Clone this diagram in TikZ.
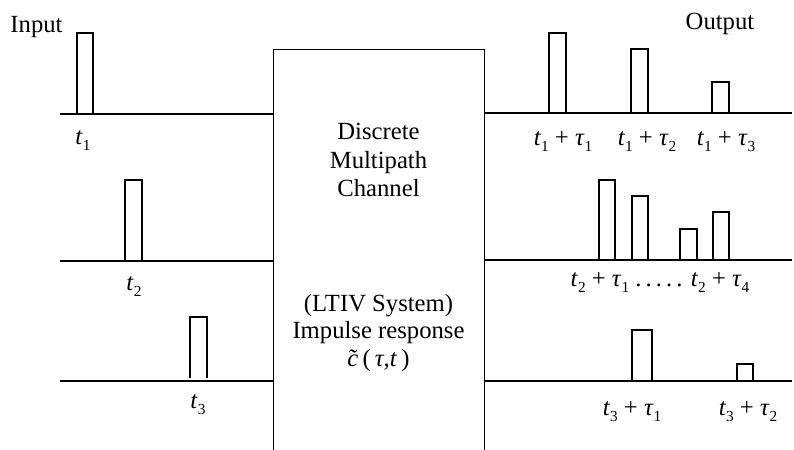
\documentclass[tikz,border=0pt]{standalone}
\usepackage{fontspec}
\setmainfont{Liberation Serif}
\newcommand{\lowidx}[1]{\raisebox{-0.28em}{\fontsize{11.5}{12}\selectfont #1}}

\begin{document}
\begin{tikzpicture}[x=0.75pt, y=-0.75pt, line width=0.9pt,
	lbl/.style={anchor=base, inner sep=0pt, font=\fontsize{18.5}{21.4}\selectfont},
	txt/.style={align=center, inner sep=0pt, font=\fontsize{18.5}{20.6}\selectfont}]
	\useasboundingbox (0,0) rectangle (794,450);
	% channel box, open towards the bottom
	\node[draw, anchor=north west, minimum width=158.25pt, minimum height=330pt, inner sep=0pt] (Ch)at(273, 49) {};
	\node[txt, font=\fontsize{18.5}{21.4}\selectfont] (Dmc)at(378.5, 160) {Discrete\\Multipath\\Channel};
	\node[txt] (Ltiv)at(378.5, 333) {(LTIV System)\\Impulse response\\\textit{c}\llap{\textit{\char"02DC}\hspace{0.04em}}\,(\,\textit{τ},\textit{t}\,)};
	% input side
	\node[lbl] (In)at(36.5, 32) {Input};
	\coordinate (i1)at(60, 114);
	\coordinate (i2)at(60, 261);
	\coordinate (i3)at(60, 381);
	\draw (i1) -- (i1 -| Ch.west);
	\draw (i2) -- (i2 -| Ch.west);
	\draw (i3) -- (i3 -| Ch.west);
	\draw (77, 114) rectangle (93, 33);
	\draw (125, 261) rectangle (142, 180);
	\draw (190, 378) |- (207, 317) -- (207, 378);
	\node[lbl] (t1)at(83, 144) {\textit{t}\lowidx{1}};
	\node[lbl] (t2)at(134, 290) {\textit{t}\lowidx{2}};
	\node[lbl] (t3)at(198, 408) {\textit{t}\lowidx{3}};
	% output side
	\node[lbl] (Out)at(720, 29) {Output};
	\coordinate (o1)at(792, 113);
	\coordinate (o2)at(792, 260);
	\coordinate (o3)at(792, 381);
	\draw (Ch.east |- o1) -- (o1);
	\draw (Ch.east |- o2) -- (o2);
	\draw (Ch.east |- o3) -- (o3);
	\draw (549, 113) rectangle (566, 33);
	\draw (631, 113) rectangle (648, 49);
	\draw (712, 113) rectangle (729, 82);
	\draw (599, 260) rectangle (615, 180);
	\draw (632, 260) rectangle (648, 196);
	\draw (680, 260) rectangle (697, 229);
	\draw (713, 260) rectangle (729, 212);
	\draw (632, 381) rectangle (652, 330);
	\draw (737, 381) rectangle (753, 364);
	\node[lbl] (o1a)at(563, 145) {\textit{t}\lowidx{1} + \textit{τ}\lowidx{1}};
	\node[lbl] (o1b)at(647, 145) {\textit{t}\lowidx{1} + \textit{τ}\lowidx{2}};
	\node[lbl] (o1c)at(726, 145) {\textit{t}\lowidx{1} + \textit{τ}\lowidx{3}};
	\node[lbl] (o2a)at(660, 286) {\textit{t}\lowidx{2} + \textit{τ}\lowidx{1} .\,.\,.\,.\,. \textit{t}\lowidx{2} + \textit{τ}\lowidx{4}};
	\node[lbl] (o3a)at(632, 415) {\textit{t}\lowidx{3} + \textit{τ}\lowidx{1}};
	\node[lbl] (o3b)at(748, 415) {\textit{t}\lowidx{3} + \textit{τ}\lowidx{2}};
\end{tikzpicture}
\end{document}
